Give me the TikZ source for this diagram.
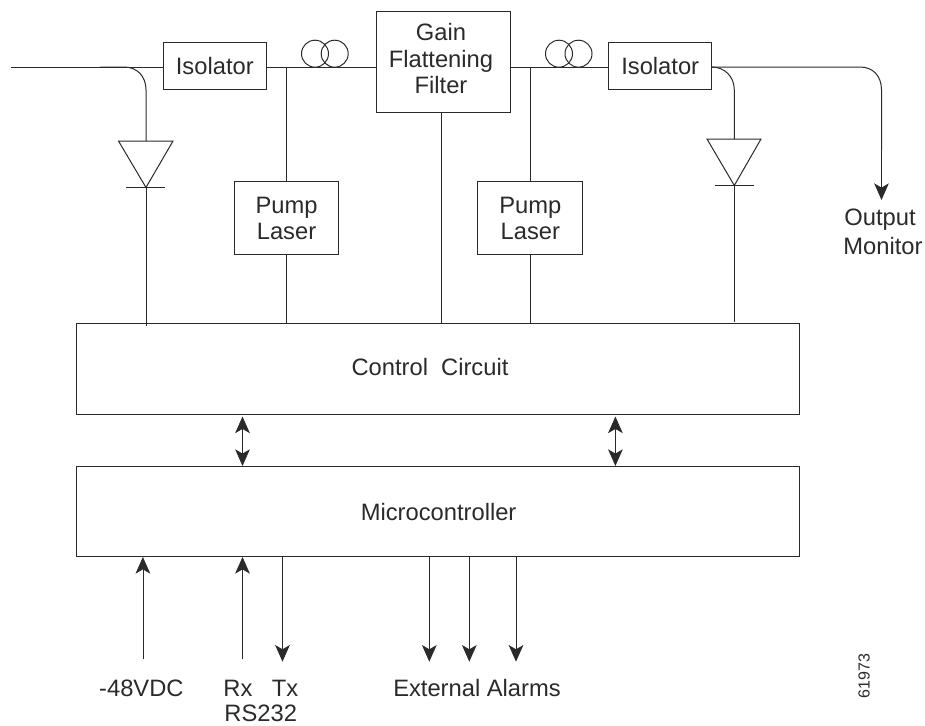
\documentclass[tikz,border=0pt]{standalone}
\usepackage{fontspec}
\setmainfont{Liberation Sans}
\usetikzlibrary{arrows.meta}
\definecolor{ink}{HTML}{2A2A2A}
\tikzset{
  line/.style={draw=ink,line width=0.75pt},
  blk/.style={line,rectangle,inner sep=0pt,outer sep=0pt,align=center,text=ink,font=\fontsize{17.8}{19.8}\selectfont},
  lbl/.style={inner sep=0pt,outer sep=0pt,anchor=base,text=ink,font=\fontsize{17.8}{19.8}\selectfont},
  tip/.style={-{Stealth[length=12.5pt,width=11pt,inset=3.2pt]}},
  tips/.style={{Stealth[length=12.5pt,width=11pt,inset=3.2pt]}-{Stealth[length=12.5pt,width=11pt,inset=3.2pt]}}
}
\begin{document}
\begin{tikzpicture}[x=0.75pt,y=-0.75pt]
\useasboundingbox (0,0) rectangle (925,725);
% boxes
\node[blk,minimum width=103pt*0.75,minimum height=46.6pt*0.75] (iso1) at (214.8,66) {Isolator};
\node[blk,minimum width=103pt*0.75,minimum height=46.6pt*0.75] (iso2) at (660.2,66) {Isolator};
\node[blk,minimum width=104.4pt*0.75,minimum height=72.7pt*0.75] (pump1) at (286.5,218.3) {Pump\\Laser};
\node[blk,minimum width=104.7pt*0.75,minimum height=72.7pt*0.75] (pump2) at (530.3,218.3) {Pump\\Laser};
\node[blk,minimum width=134pt*0.75,minimum height=101pt*0.75] (gff) at (443.7,61.5) {};
\node[lbl,anchor=center,align=center] (gfftxt) at (441,58.7) {Gain\\Flattening\\Filter};
\node[blk,minimum width=723pt*0.75,minimum height=91pt*0.75] (ctrl) at (437.8,369.2) {};
\node[blk,minimum width=723pt*0.75,minimum height=90.3pt*0.75] (micro) at (437.8,511.8) {};
\node[lbl] (ctrltxt) at (430,375) {Control\hspace{0.55em}Circuit};
\node[lbl] (microtxt) at (438.6,520.7) {Microcontroller};
% labels
\node[lbl] (dc) at (141.4,696.7) {-48VDC};
\node[lbl] (rx) at (238,696.7) {Rx};
\node[lbl] (tx) at (285,696.7) {Tx};
\node[lbl] (rs) at (260.7,721.5) {RS232};
\node[lbl] (alarms) at (477,696.7) {External Alarms};
\node[lbl] (outa) at (880,225) {Output};
\node[lbl] (outb) at (883,254) {Monitor};
\node[inner sep=0pt,outer sep=0pt,rotate=90,text=ink,font=\fontsize{12}{14}\selectfont] (num) at (864,676) {61973};
% coil nodes
\node[line,circle,minimum size=27pt*0.75,inner sep=0pt,outer sep=0pt] (c1) at (315,53.7) {};
\node[line,circle,minimum size=27pt*0.75,inner sep=0pt,outer sep=0pt] (c2) at (334.7,53.7) {};
\node[line,circle,minimum size=27pt*0.75,inner sep=0pt,outer sep=0pt] (c3) at (559,53.7) {};
\node[line,circle,minimum size=27pt*0.75,inner sep=0pt,outer sep=0pt] (c4) at (578.5,53.7) {};
% free coordinates
\coordinate (in) at (11,67);
\coordinate (d1a) at (118.5,141); \coordinate (d1b) at (173,141); \coordinate (d1c) at (146,187.5);
\coordinate (d1l) at (126,187.5); \coordinate (d1r) at (165,187.5);
\coordinate (d2a) at (707,139); \coordinate (d2b) at (761,139); \coordinate (d2c) at (734.3,185.5);
\coordinate (d2l) at (714.5,185.5); \coordinate (d2r) at (754,185.5);
\coordinate (out) at (881.5,200);
% main line
\draw[line] (in) -- (iso1.west |- in);
\draw[line] (iso1.east |- in) -- (gff.west |- in);
\draw[line] (gff.east |- in) -- (iso2.west |- in);
\draw[line] (iso2.east |- in) -- (860,67) .. controls (873,67) and (881.5,76) .. (881.5,90) -- (881.5,150);
\draw[line,tip] (881.5,150) -- (out);
% left tap and diode
\draw[line] (100,67) -- (124,67) .. controls (137,67) and (146,76) .. (146,90) -- (146,141);
\draw[line] (d1a) -- (d1b) -- (d1c) -- cycle;
\draw[line] (d1l) -- (d1r);
\draw[line] (d1c) -- (146,326);
% right tap and diode
\draw[line] (iso2.east |- in) .. controls (724,67) and (734.3,76) .. (734.3,90) -- (734.3,139);
\draw[line] (d2a) -- (d2b) -- (d2c) -- cycle;
\draw[line] (d2l) -- (d2r);
\draw[line] (d2c) -- (734.3,322);
% vertical links
\draw[line] (pump1.north) -- (pump1.north |- in);
\draw[line] (pump1.south) -- (pump1.south |- ctrl.north);
\draw[line] (pump2.north) -- (pump2.north |- in);
\draw[line] (pump2.south) -- (pump2.south |- ctrl.north);
\draw[line] (441.7,112) -- (441.7,323.7);
% double arrows
\draw[line,line width=0.6pt,tips] (242.5,416.5) -- (242.5,466);
\draw[line,tips] (615.4,416.5) -- (615.4,466);
% bottom arrows
\coordinate (dcend) at (142.9,659);
\coordinate (rxend) at (242.5,659);
\coordinate (txend) at (282.5,661.7);
\coordinate (a1end) at (429.3,661.7);
\coordinate (a2end) at (469.3,661.7);
\coordinate (a3end) at (516,661.7);
\draw[line,line width=0.6pt,tip] (dcend) -- (dcend |- micro.south);
\draw[line,line width=0.6pt,tip] (rxend) -- (rxend |- micro.south);
\draw[line,tip] (txend |- micro.south) -- (txend);
\draw[line,tip] (a1end |- micro.south) -- (a1end);
\draw[line,tip] (a2end |- micro.south) -- (a2end);
\draw[line,tip] (a3end |- micro.south) -- (a3end);
\end{tikzpicture}
\end{document}
